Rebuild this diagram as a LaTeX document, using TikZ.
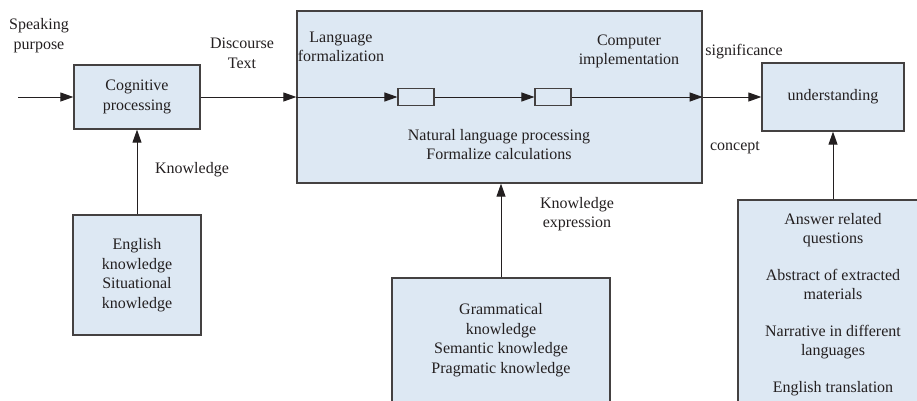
\documentclass[tikz,border=0pt]{standalone}
\usepackage{fontspec}
\setmainfont{Liberation Serif}
\usetikzlibrary{arrows.meta}
\definecolor{boxfill}{RGB}{221,232,243}
\definecolor{ink}{RGB}{35,31,32}
\begin{document}
\begin{tikzpicture}[x=1pt,y=-1pt,
  every node/.style={font=\fontsize{16}{19.5}\selectfont, text=ink},
  blk/.style={draw=ink!85, fill=boxfill, line width=1.3pt, align=center, inner sep=0pt},
  slot/.style={draw=ink!85, fill=boxfill, line width=1.1pt, inner sep=0pt, minimum width=36pt, minimum height=17pt},
  lbl/.style={align=center, inner sep=0pt},
  arr/.style={draw=ink, line width=1pt, -{Triangle[length=13pt,width=9pt]}},
  ln/.style={draw=ink, line width=1pt}]
\useasboundingbox (0,0) rectangle (917,400);
\clip (0,0) rectangle (917,400);

% main blocks
\node[blk, minimum width=126pt, minimum height=64pt] (cog) at (137,97) {Cognitive\\processing};
\node[blk, minimum width=405pt, minimum height=172pt] (big) at (499.5,97) {};
\node[slot] (r1) at (416,97) {};
\node[slot] (r2) at (553,97) {};
\node[blk, minimum width=142pt, minimum height=68pt] (und) at (833,97) {understanding};
\node[blk, minimum width=128pt, minimum height=120pt] (eng) at (137,275) {English\\knowledge\\Situational\\knowledge};
\node[blk, minimum width=218pt, minimum height=142pt] (gram) at (501,349) {};
\node[lbl] (gramtxt) at (501,340) {Grammatical\\knowledge\\Semantic knowledge\\Pragmatic knowledge};
\node[blk, minimum width=190pt, minimum height=220pt] (tasks) at (833,310) {};
\node[lbl] (taskstxt) at (833,304.5) {Answer related\\questions\\[17pt]Abstract of extracted\\materials\\[17pt]Narrative in different\\languages\\[17pt]English translation};

% labels
\node[lbl] (speak) at (39,35.5) {Speaking\\purpose};
\node[lbl] (disc) at (242,53.5) {Discourse\\Text};
\node[lbl] (langf) at (341,47) {Language\\formalization};
\node[lbl] (comp) at (629,51.5) {Computer\\implementation};
\node[lbl] (nlp) at (499,144.5) {Natural language processing\\Formalize calculations};
\node[lbl] (sig) at (744,52) {significance};
\node[lbl] (conc) at (735,148) {concept};
\node[lbl] (know) at (192,170) {Knowledge};
\node[lbl] (kexp) at (577,214) {Knowledge\\expression};

% connectors
\coordinate (start) at (18,97);
\draw[arr] (start) -- (cog.west);
\draw[arr] (cog.east) -- (big.west);
\draw[arr] (big.west) -- (r1.west);
\draw[arr] (r1.east) -- (r2.west);
\draw[arr] (r2.east) -- (big.east);
\draw[arr] (big.east) -- (und.west);
\draw[arr] (eng.north) -- (cog.south);
\draw[arr] (gram.north) -- (gram.north |- big.south);
\draw[arr] (tasks.north) -- (und.south);
\end{tikzpicture}
\end{document}
